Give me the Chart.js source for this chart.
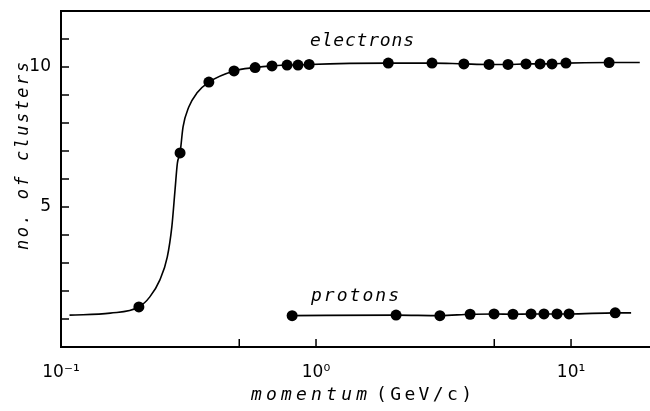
<!DOCTYPE html>
<html lang="en">
<head>
    <meta charset="UTF-8">
    <title>Clusters vs momentum</title>
    <script src="https://cdn.jsdelivr.net/npm/chart.js"></script>
    <style>
        html, body { margin: 0; padding: 0; background: #fff; overflow: hidden; }
        #wrap { position: relative; width: 650px; height: 411px; }
        #wrap canvas { display: block; }
    </style>
</head>
<body>
    <div id="wrap"><canvas id="clusterChart"></canvas></div>

    <script>
        // measured points (momentum in GeV/c, number of clusters)
        const electronP = [0.202, 0.293, 0.38, 0.477, 0.577, 0.672, 0.77, 0.85, 0.94, 1.92, 2.85, 3.80, 4.77, 5.66, 6.66, 7.56, 8.42, 9.55, 14.1];
        const electronN = [1.43, 6.93, 9.46, 9.86, 9.98, 10.04, 10.07, 10.07, 10.09, 10.14, 10.14, 10.11, 10.09, 10.09, 10.11, 10.11, 10.11, 10.14, 10.16];
        const protonP = [0.806, 2.06, 3.06, 4.02, 4.99, 5.92, 6.97, 7.83, 8.81, 9.82, 14.9];
        const protonN = [1.12, 1.14, 1.12, 1.17, 1.18, 1.17, 1.18, 1.18, 1.18, 1.18, 1.22];

        // hand-drawn guide curves
        const electronCurveP = [0.108, 0.156, 0.202, 0.223, 0.244, 0.261, 0.272, 0.280, 0.286, 0.293, 0.301, 0.317, 0.341, 0.38, 0.477, 0.577, 0.672, 0.77, 0.85, 0.94, 1.92, 2.85, 3.80, 4.77, 5.66, 6.66, 7.56, 8.42, 9.55, 14.1, 18.6];
        const electronCurveN = [1.14, 1.21, 1.43, 1.79, 2.39, 3.21, 4.29, 5.61, 6.57, 6.93, 7.86, 8.57, 9.07, 9.46, 9.86, 9.98, 10.04, 10.07, 10.07, 10.09, 10.14, 10.14, 10.11, 10.09, 10.09, 10.11, 10.11, 10.11, 10.14, 10.16, 10.16];
        const protonCurveP = [0.806, 2.06, 3.06, 4.02, 4.99, 5.92, 6.97, 7.83, 8.81, 9.82, 14.9, 17.2];
        const protonCurveN = [1.12, 1.14, 1.12, 1.17, 1.18, 1.17, 1.18, 1.18, 1.18, 1.18, 1.22, 1.22];

        // axes
        const xTickValues = [0.1, 0.5, 1, 5, 10];
        const xTickLabels = ['10\u207B\u00B9', '', '10\u2070', '', '10\u00B9'];
        const yTickValues = [1, 2, 3, 4, 5, 6, 7, 8, 9, 10, 11];
        const yTickLabels = ['', '', '', '', '5', '', '', '', '', '10', ''];

        const toXY = (xs, ys) => xs.map((x, i) => ({ x: x, y: ys[i] }));

        // write text stretched to a given width using letter spacing
        function fitText(ctx, text, left, y, width) {
            ctx.letterSpacing = '0px';
            const w = ctx.measureText(text).width;
            const gap = (width - w) / Math.max(text.length - 1, 1);
            ctx.letterSpacing = gap + 'px';
            ctx.textAlign = 'left';
            ctx.fillText(text, left, y);
            ctx.letterSpacing = '0px';
        }

        const mono = '"DejaVu Sans Mono"';

        const framePlugin = {
            id: 'frame',
            afterDraw(chart) {
                const ctx = chart.ctx;
                const xs = chart.scales.x, ys = chart.scales.y;
                const area = chart.chartArea;
                ctx.save();
                ctx.strokeStyle = '#000';
                ctx.fillStyle = '#000';

                // top border
                ctx.lineWidth = 2;
                ctx.beginPath();
                ctx.moveTo(area.left, area.top);
                ctx.lineTo(chart.width, area.top);
                ctx.stroke();

                // inward tick marks
                ctx.lineWidth = 1.5;
                ctx.beginPath();
                yTickValues.forEach(v => {
                    const py = ys.getPixelForValue(v);
                    ctx.moveTo(area.left, py);
                    ctx.lineTo(area.left + 8, py);
                });
                xTickValues.slice(1).forEach(v => {
                    const px = xs.getPixelForValue(v);
                    ctx.moveTo(px, area.bottom);
                    ctx.lineTo(px, area.bottom - 8);
                });
                ctx.stroke();

                // curve labels
                ctx.textBaseline = 'middle';
                ctx.font = 'italic 18px ' + mono;
                fitText(ctx, 'electrons', 310, 41, 104);
                fitText(ctx, 'protons', 311, 296, 88);

                // axis titles
                ctx.font = 'italic 18px ' + mono;
                fitText(ctx, 'momentum', 251, 395, 116);
                ctx.font = '18px ' + mono;
                fitText(ctx, '(GeV/c)', 376, 395, 96);

                ctx.translate(24, 156);
                ctx.rotate(-Math.PI / 2);
                ctx.font = 'italic 17px ' + mono;
                fitText(ctx, 'no. of clusters', -94, 0, 188);
                ctx.restore();
            }
        };

        new Chart(document.getElementById('clusterChart'), {
            type: 'scatter',
            data: {
                datasets: [
                    { label: 'electron curve', data: toXY(electronCurveP, electronCurveN), showLine: true, pointRadius: 0, borderColor: '#000', borderWidth: 1.6, cubicInterpolationMode: 'monotone' },
                    { label: 'proton curve', data: toXY(protonCurveP, protonCurveN), showLine: true, pointRadius: 0, borderColor: '#000', borderWidth: 1.6, cubicInterpolationMode: 'monotone' },
                    { label: 'electrons', data: toXY(electronP, electronN), pointRadius: 5.5, pointBackgroundColor: '#000', pointBorderWidth: 0 },
                    { label: 'protons', data: toXY(protonP, protonN), pointRadius: 5.5, pointBackgroundColor: '#000', pointBorderWidth: 0 }
                ]
            },
            options: {
                responsive: true,
                maintainAspectRatio: false,
                animation: false,
                events: [],
                clip: false,
                layout: { autoPadding: false, padding: { top: 11, right: 0, left: 0, bottom: 0 } },
                plugins: { legend: { display: false }, tooltip: { enabled: false } },
                scales: {
                    x: {
                        type: 'logarithmic',
                        min: 0.1,
                        max: 20.4,
                        afterBuildTicks: s => { s.ticks = xTickValues.map(v => ({ value: v })); },
                        afterFit: s => { s.height = 64; s.paddingLeft = 0; s.paddingRight = 0; },
                        grid: { display: false, drawTicks: false },
                        border: { display: true, color: '#000', width: 2 },
                        ticks: {
                            autoSkip: false,
                            maxRotation: 0,
                            padding: 15,
                            color: '#000',
                            font: { family: '"DejaVu Sans"', size: 17 },
                            callback: (v, i) => xTickLabels[i]
                        }
                    },
                    y: {
                        min: 0,
                        max: 12,
                        afterBuildTicks: s => { s.ticks = yTickValues.map(v => ({ value: v })); },
                        afterFit: s => { s.width = 61; s.paddingTop = 0; s.paddingBottom = 0; },
                        grid: { display: false, drawTicks: false },
                        border: { display: true, color: '#000', width: 2 },
                        ticks: {
                            autoSkip: false,
                            padding: 10,
                            color: '#000',
                            font: { family: '"DejaVu Sans"', size: 17 },
                            callback: (v, i) => yTickLabels[i]
                        }
                    }
                }
            },
            plugins: [framePlugin]
        });
    </script>
</body>
</html>
